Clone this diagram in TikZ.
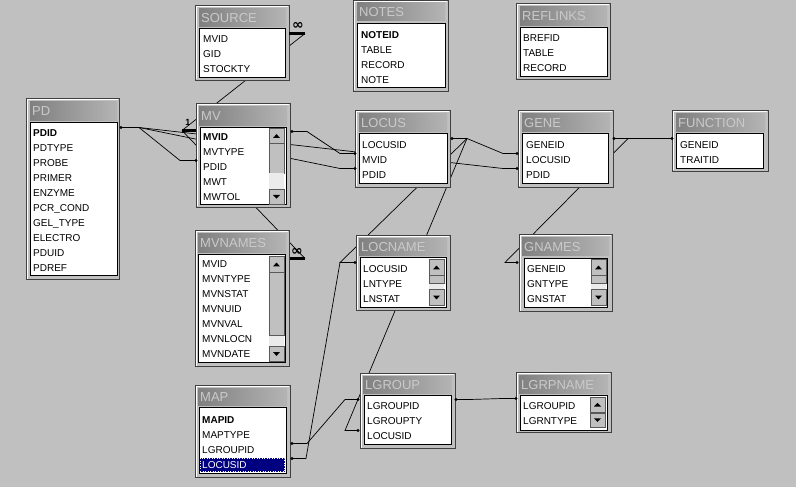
\documentclass[tikz,border=0pt]{standalone}
\usepackage{fontspec}
\setmainfont{Liberation Sans}
\newfontfamily\symfont{DejaVu Sans}
\definecolor{bg}{RGB}{192,192,192}
\definecolor{tdark}{RGB}{128,128,128}
\definecolor{tlight}{RGB}{180,180,180}
\definecolor{ttext}{RGB}{202,202,202}
\definecolor{frame}{RGB}{64,64,64}
\definecolor{navy}{RGB}{0,0,128}

\begin{document}
\begin{tikzpicture}[x=1pt,y=-1pt,
  win/.style={fill=bg,draw=frame,line width=1pt},
  hi/.style={draw=white,line width=1pt},
  lst/.style={fill=white,draw=black,line width=0.8pt},
  fld/.style={anchor=base west,inner sep=0,font=\fontsize{10}{12}\selectfont},
  bfld/.style={anchor=base west,inner sep=0,font=\fontsize{10}{12}\selectfont\bfseries},
  ttl/.style={anchor=base west,inner sep=0,text=ttext,font=\fontsize{13}{13}\selectfont},
  rel/.style={line width=0.7pt},
  bar/.style={line width=3pt},
  many/.style={inner sep=0,font=\symfont\bfseries\fontsize{14}{14}\selectfont},
  sbtn/.style={fill=bg,draw=black!65,line width=0.6pt},
  chk/.style={fill=black!8}]
            \fill[bg] (0,0) rectangle (796,486);

            \coordinate (pdR) at (121,127);
            \coordinate (pdJ) at (139,127);
            \coordinate (geneJP) at (503,168);
            \coordinate (geneP) at (517,168);
            \coordinate (locJP) at (340,168);
            \coordinate (locP) at (355,168);
            \coordinate (mvJP) at (180,160);
            \coordinate (mvP) at (196,160);
            \coordinate (mvJ) at (182,130);
            \coordinate (mvOne) at (196,130);
            \coordinate (srcJ) at (305,33);
            \coordinate (srcM) at (289,33);
            \coordinate (mvnJ) at (305,258);
            \coordinate (mvnM) at (290,258);
            \coordinate (mvR) at (292,131);
            \coordinate (mvRJ) at (307,131);
            \coordinate (locJM) at (340,153);
            \coordinate (locM) at (355,153);
            \coordinate (locR) at (452,138);
            \coordinate (locRJ) at (467,138);
            \coordinate (geneJL) at (503,153);
            \coordinate (geneL) at (517,153);
            \coordinate (lnJ) at (340,262);
            \coordinate (lnL) at (355,262);
            \coordinate (lgJL) at (345,430);
            \coordinate (lgL) at (358,430);
            \coordinate (mapLoc) at (292,458);
            \coordinate (mapLocJ) at (306,458);
            \coordinate (mapLg) at (292,443);
            \coordinate (mapLgJ) at (307,443);
            \coordinate (lgJG) at (345,399);
            \coordinate (lgG) at (358,399);
            \coordinate (geneR) at (614,138);
            \coordinate (geneRJ) at (628,138);
            \coordinate (fnL) at (672,138);
            \coordinate (gnJ) at (505,262);
            \coordinate (gnL) at (517,262);
            \coordinate (lgR) at (456,399);
            \coordinate (lgRJ) at (470,399);
            \coordinate (lrJ) at (502,398);
            \coordinate (lrL) at (516,398);

            \draw[rel] (pdR) -- (pdJ) -- (geneJP) -- (geneP);
            \draw[rel] (pdJ) -- (locJP) -- (locP);
            \draw[rel] (pdJ) -- (mvJP) -- (mvP);
            \draw[rel] (mvJ) -- (srcJ);
            \draw[rel] (mvJ) -- (mvnJ);
            \draw[rel] (mvR) -- (mvRJ) -- (locJM) -- (locM);
            \draw[rel] (locR) -- (locRJ) -- (geneJL) -- (geneL);
            \draw[rel] (locRJ) -- (lnJ) -- (lnL);
            \draw[rel] (locRJ) -- (lgJL) -- (lgL);
            \draw[rel] (mapLoc) -- (mapLocJ) -- (lnJ);
            \draw[rel] (mapLg) -- (mapLgJ) -- (lgJG) -- (lgG);
            \draw[rel] (geneR) -- (geneRJ) -- (fnL);
            \draw[rel] (geneRJ) -- (gnJ) -- (gnL);
            \draw[rel] (lgR) -- (lgRJ) -- (lrJ) -- (lrL);

            \draw[win] (195,5) rectangle (289,80);
            \draw[hi] (196,79) |- (288,6);
            \shade[left color=tdark,right color=tlight] (199,8) rectangle (286,26);
            \node[ttl] (srcT) at (201,22) {SOURCE};
            \draw[lst] (199,28) rectangle (285,77);
            \node[fld] (src1) at (203,42) {MVID};
            \node[fld] (src2) at (203,57) {GID};
            \node[fld] (src3) at (203,72) {STOCKTY};

            \draw[win] (353,0) rectangle (448,91);
            \draw[hi] (354,90) |- (447,1);
            \shade[left color=tdark,right color=tlight] (357,2) rectangle (445,20);
            \node[ttl] (noteT) at (359,16) {NOTES};
            \draw[lst] (357,23) rectangle (445,87);
            \node[bfld] (note1) at (361,38) {NOTEID};
            \node[fld] (note2) at (361,53) {TABLE};
            \node[fld] (note3) at (361,68) {RECORD};
            \node[fld] (note4) at (361,83) {NOTE};

            \draw[win] (516,3) rectangle (610,79);
            \draw[hi] (517,78) |- (609,4);
            \shade[left color=tdark,right color=tlight] (520,6) rectangle (607,25);
            \node[ttl] (refT) at (522,20) {REFLINKS};
            \draw[lst] (520,27) rectangle (607,76);
            \node[fld] (ref1) at (523,41) {BREFID};
            \node[fld] (ref2) at (523,56) {TABLE};
            \node[fld] (ref3) at (523,71) {RECORD};

            \draw[win] (26,98) rectangle (119,279);
            \draw[hi] (27,278) |- (118,99);
            \shade[left color=tdark,right color=tlight] (30,101) rectangle (117,120);
            \node[ttl] (pdT) at (32,115) {PD};
            \draw[lst] (30,122) rectangle (117,275);
            \node[bfld] (pd1) at (33,136) {PDID};
            \node[fld] (pd2) at (33,151) {PDTYPE};
            \node[fld] (pd3) at (33,166) {PROBE};
            \node[fld] (pd4) at (33,181) {PRIMER};
            \node[fld] (pd5) at (33,196) {ENZYME};
            \node[fld] (pd6) at (33,211) {PCR\_COND};
            \node[fld] (pd7) at (33,226) {GEL\_TYPE};
            \node[fld] (pd8) at (33,241) {ELECTRO};
            \node[fld] (pd9) at (33,256) {PDUID};
            \node[fld] (pd10) at (33,271) {PDREF};

            \draw[win] (196,103) rectangle (290,207);
            \draw[hi] (197,206) |- (289,104);
            \shade[left color=tdark,right color=tlight] (199,106) rectangle (287,125);
            \node[ttl] (mvT) at (201,120) {MV};
            \draw[lst] (200,127) rectangle (286,204);
            \node[bfld] (mv1) at (203,140) {MVID};
            \node[fld] (mv2) at (203,155) {MVTYPE};
            \node[fld] (mv3) at (203,170) {PDID};
            \node[fld] (mv4) at (203,185) {MWT};
            \node[fld] (mv5) at (203,200) {MWTOL};
            \draw[sbtn] (269,128) rectangle (284,143);
            \fill (273,137.3) -- (280,137.3) -- (276.5,133.7) -- cycle;
            \draw[sbtn] (269,143) rectangle (284,173);
            \fill[chk] (269,173) rectangle (284,189);
            \draw[sbtn] (269,189) rectangle (284,203.5);
            \fill (273,194.5) -- (280,194.5) -- (276.5,198.1) -- cycle;

            \draw[win] (355,110) rectangle (450,187);
            \draw[hi] (356,186) |- (449,111);
            \shade[left color=tdark,right color=tlight] (359,113) rectangle (447,131);
            \node[ttl] (locT) at (361,127) {LOCUS};
            \draw[lst] (359,133) rectangle (447,183);
            \node[fld] (loc1) at (362,148) {LOCUSID};
            \node[fld] (loc2) at (362,163) {MVID};
            \node[fld] (loc3) at (362,178) {PDID};

            \draw[win] (518,110) rectangle (613,187);
            \draw[hi] (519,186) |- (612,111);
            \shade[left color=tdark,right color=tlight] (522,113) rectangle (610,131);
            \node[ttl] (geneT) at (524,127) {GENE};
            \draw[lst] (522,133) rectangle (608,183);
            \node[fld] (gene1) at (526,148) {GENEID};
            \node[fld] (gene2) at (526,163) {LOCUSID};
            \node[fld] (gene3) at (526,178) {PDID};

            \draw[win] (672,110) rectangle (768,171);
            \draw[hi] (673,170) |- (767,111);
            \shade[left color=tdark,right color=tlight] (676,113) rectangle (765,131);
            \node[ttl] (fnT) at (678,127) {FUNCTION};
            \draw[lst] (676,133) rectangle (763,168);
            \node[fld] (fn1) at (680,148) {GENEID};
            \node[fld] (fn2) at (680,163) {TRAITID};

            \draw[win] (195,230) rectangle (289,366);
            \draw[hi] (196,365) |- (288,231);
            \shade[left color=tdark,right color=tlight] (198,233) rectangle (286,252);
            \node[ttl] (mvnT) at (200,247) {MVNAMES};
            \draw[lst] (198,254) rectangle (285,362);
            \node[fld] (mvn1) at (202,267) {MVID};
            \node[fld] (mvn2) at (202,282) {MVNTYPE};
            \node[fld] (mvn3) at (202,297) {MVNSTAT};
            \node[fld] (mvn4) at (202,312) {MVNUID};
            \node[fld] (mvn5) at (202,327) {MVNVAL};
            \node[fld] (mvn6) at (202,342) {MVNLOCN};
            \node[fld] (mvn7) at (202,357) {MVNDATE};
            \draw[sbtn] (269,256) rectangle (284,272);
            \fill (273,265.8) -- (280,265.8) -- (276.5,262.2) -- cycle;
            \draw[sbtn] (269,272) rectangle (284,335);
            \fill[chk] (269,335) rectangle (284,346);
            \draw[sbtn] (269,346) rectangle (284,361);
            \fill (273,351.7) -- (280,351.7) -- (276.5,355.3) -- cycle;

            \draw[win] (356,235) rectangle (450,310);
            \draw[hi] (357,309) |- (449,236);
            \shade[left color=tdark,right color=tlight] (359,238) rectangle (447,255);
            \node[ttl] (lnT) at (361,251) {LOCNAME};
            \draw[lst] (360,257) rectangle (446,307);
            \node[fld] (ln1) at (363,272) {LOCUSID};
            \node[fld] (ln2) at (363,287) {LNTYPE};
            \node[fld] (ln3) at (363,302) {LNSTAT};
            \draw[sbtn] (429,259) rectangle (444,275);
            \fill (433,268.8) -- (440,268.8) -- (436.5,265.2) -- cycle;
            \draw[sbtn] (429,275) rectangle (444,283);
            \fill[chk] (429,283) rectangle (444,289);
            \draw[sbtn] (429,289) rectangle (444,305);
            \fill (433,295.2) -- (440,295.2) -- (436.5,298.8) -- cycle;

            \draw[win] (519,234) rectangle (612,311);
            \draw[hi] (520,310) |- (611,235);
            \shade[left color=tdark,right color=tlight] (522,237) rectangle (609,255);
            \node[ttl] (gnT) at (524,251) {GNAMES};
            \draw[lst] (524,258) rectangle (607,307);
            \node[fld] (gn1) at (527,272) {GENEID};
            \node[fld] (gn2) at (527,287) {GNTYPE};
            \node[fld] (gn3) at (527,302) {GNSTAT};
            \draw[sbtn] (591,259) rectangle (606,275);
            \fill (595,268.8) -- (602,268.8) -- (598.5,265.2) -- cycle;
            \draw[sbtn] (591,275) rectangle (606,283);
            \fill[chk] (591,283) rectangle (606,289);
            \draw[sbtn] (591,289) rectangle (606,305);
            \fill (595,295.2) -- (602,295.2) -- (598.5,298.8) -- cycle;

            \draw[win] (195,385) rectangle (290,477);
            \draw[hi] (196,476) |- (289,386);
            \shade[left color=tdark,right color=tlight] (198,388) rectangle (287,405);
            \node[ttl] (mapT) at (200,401) {MAP};
            \draw[lst] (199,407) rectangle (286,473);
            \node[bfld] (map1) at (202,423) {MAPID};
            \node[fld] (map2) at (202,438) {MAPTYPE};
            \node[fld] (map3) at (202,453) {LGROUPID};
            \fill[navy] (200,457) rectangle (285,471);
            \draw[white,dotted,line width=0.5pt] (200.5,457.5) rectangle (284.5,470.5);
            \node[fld,text=white] (map4) at (202,468) {LOCUSID};

            \draw[win] (360,373) rectangle (455,448);
            \draw[hi] (361,447) |- (454,374);
            \shade[left color=tdark,right color=tlight] (363,376) rectangle (452,393);
            \node[ttl] (lgT) at (365,389) {LGROUP};
            \draw[lst] (364,395) rectangle (451,444);
            \node[fld] (lg1) at (367,409) {LGROUPID};
            \node[fld] (lg2) at (367,424) {LGROUPTY};
            \node[fld] (lg3) at (367,439) {LOCUSID};

            \draw[win] (516,372) rectangle (611,432);
            \draw[hi] (517,431) |- (610,373);
            \shade[left color=tdark,right color=tlight] (519,375) rectangle (608,393);
            \node[ttl] (lrT) at (521,389) {LGRPNAME};
            \draw[lst] (520,395) rectangle (607,430);
            \node[fld] (lr1) at (523,409) {LGROUPID};
            \node[fld] (lr2) at (523,424) {LGRNTYPE};
            \draw[sbtn] (590,397) rectangle (605,411.5);
            \fill (594,406) -- (601,406) -- (597.5,402.4) -- cycle;
            \draw[sbtn] (590,412.5) rectangle (605,427);
            \fill (594,417.9) -- (601,417.9) -- (597.5,421.5) -- cycle;

            \draw[bar] (mvJ) -- (mvOne);
            \draw[bar] (srcJ) -- (srcM);
            \draw[bar] (mvnJ) -- (mvnM);
            \node[inner sep=0,font=\fontsize{9}{9}\selectfont\bfseries] (one) at (188,122) {1};
            \node[many] (srcMany) at (298,25) {∞};
            \node[many] (mvnMany) at (297,251) {∞};

            \fill (pdR) circle (1.6) (geneP) circle (1.6) (locP) circle (1.6) (mvP) circle (1.6)
                  (mvR) circle (1.6) (locM) circle (1.6) (locR) circle (1.6) (geneL) circle (1.6)
                  (lnL) circle (1.6) (lgL) circle (1.6) (mapLoc) circle (1.6) (mapLg) circle (1.6)
                  (lgG) circle (1.6) (geneR) circle (1.6) (fnL) circle (1.6) (gnL) circle (1.6)
                  (lgR) circle (1.6) (lrL) circle (1.6);
        \end{tikzpicture}
\end{document}
